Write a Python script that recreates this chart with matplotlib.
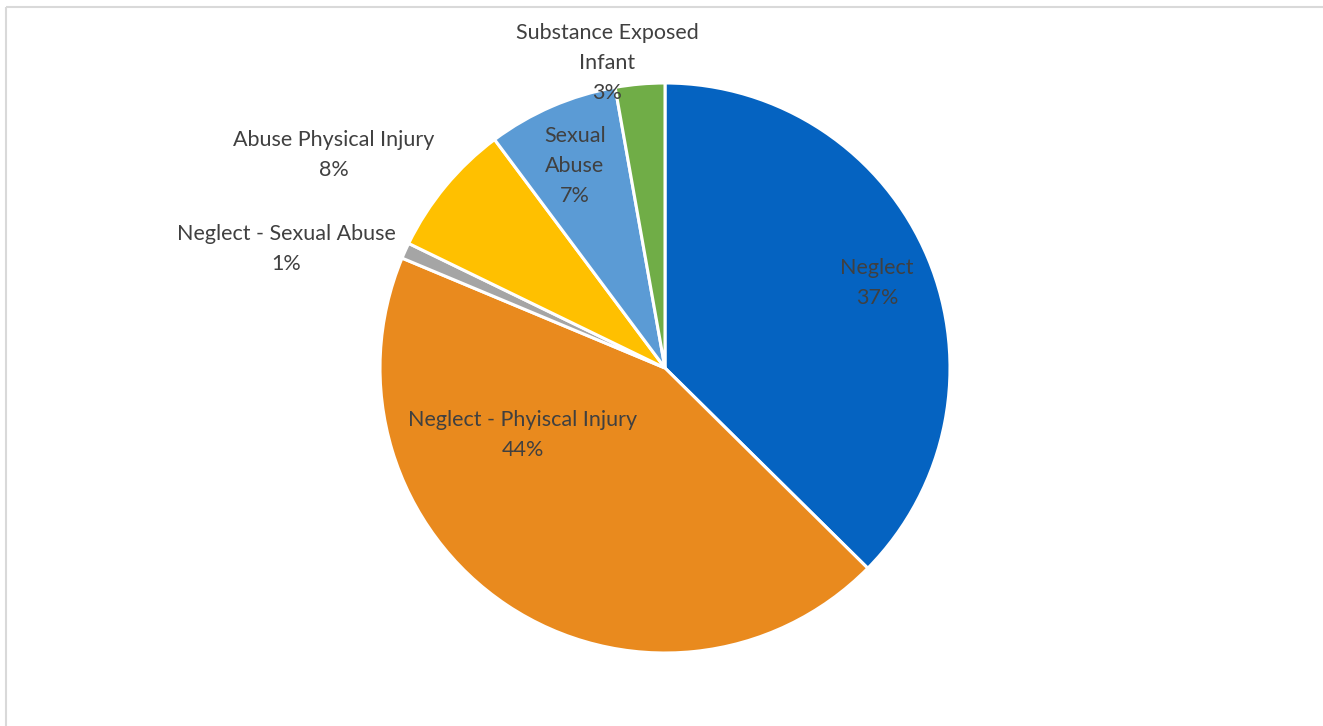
import matplotlib
matplotlib.use("Agg")
import matplotlib.pyplot as plt

categories = ["Neglect", "Neglect - Phyiscal Injury", "Neglect - Sexual Abuse",
              "Abuse Physical Injury", "Sexual Abuse", "Substance Exposed Infant"]
values = [37.4, 43.9, 0.9, 7.6, 7.4, 2.8]
colors = ["#0563C1", "#E98A1E", "#A5A5A5", "#FFC000", "#5B9BD5", "#70AD47"]
label_text = ["Neglect", "Neglect - Phyiscal Injury", "Neglect - Sexual Abuse",
              "Abuse Physical Injury", "Sexual\nAbuse", "Substance Exposed\nInfant"]
# label centre positions in pixels (x, y from top)
label_pos = [(877, 283), (523, 435), (286, 249), (334, 155), (575, 166), (607, 63)]

W, H = 1323, 726
fig = plt.figure(figsize=(W / 100, H / 100), dpi=100)
ax = fig.add_axes([0, 0, 1, 1])
ax.set_xlim(0, W)
ax.set_ylim(0, H)
ax.set_aspect("equal")
ax.axis("off")

ax.pie(values, colors=colors, startangle=90, counterclock=False,
       center=(665, H - 368), radius=285, frame=True,
       wedgeprops=dict(edgecolor="white", linewidth=2.2))
ax.set_xlim(0, W)
ax.set_ylim(0, H)
ax.axis("off")

total = sum(values)
for txt, v, (px, py) in zip(label_text, values, label_pos):
    pct = f"{round(v / total * 100):.0f}%"
    ax.text(px, H - py, f"{txt}\n{pct}", ha="center", va="center",
            fontsize=15.5, color="#404040", family="Lato", linespacing=1.63)

# chart border (top and left)
ax.plot([6, W], [H - 7, H - 7], color="#D9D9D9", lw=1.5, solid_capstyle="butt")
ax.plot([6, 6], [H - 7, 0], color="#D9D9D9", lw=1.5, solid_capstyle="butt")

fig.savefig("out.png", dpi=100)
